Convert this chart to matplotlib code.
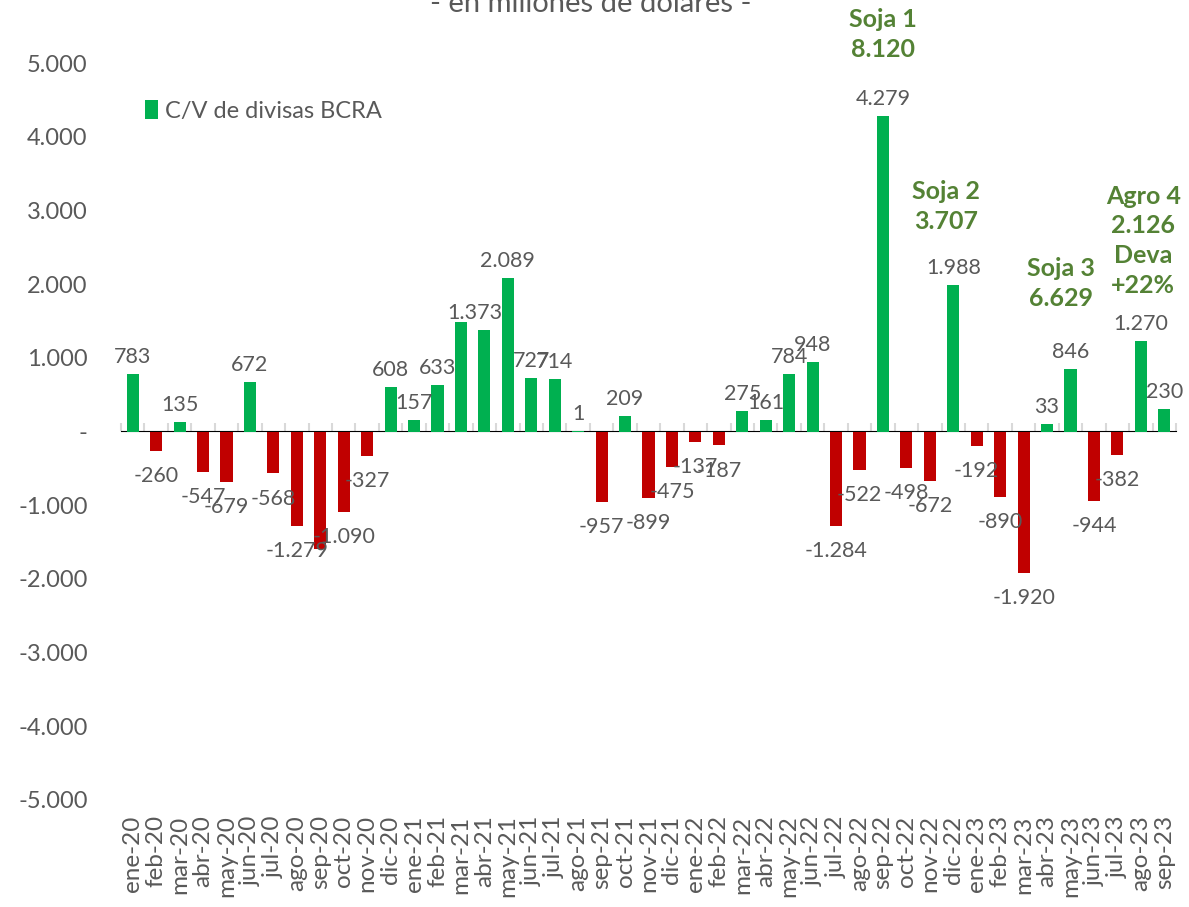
import numpy as np
import matplotlib
matplotlib.use("Agg")
import matplotlib.pyplot as plt

plt.rcParams['font.family'] = ['Lato', 'DejaVu Sans']

# meses
months = ['ene-20', 'feb-20', 'mar-20', 'abr-20', 'may-20', 'jun-20', 'jul-20', 'ago-20',
          'sep-20', 'oct-20', 'nov-20', 'dic-20', 'ene-21', 'feb-21', 'mar-21', 'abr-21',
          'may-21', 'jun-21', 'jul-21', 'ago-21', 'sep-21', 'oct-21', 'nov-21', 'dic-21',
          'ene-22', 'feb-22', 'mar-22', 'abr-22', 'may-22', 'jun-22', 'jul-22', 'ago-22',
          'sep-22', 'oct-22', 'nov-22', 'dic-22', 'ene-23', 'feb-23', 'mar-23', 'abr-23',
          'may-23', 'jun-23', 'jul-23', 'ago-23', 'sep-23']

# C/V de divisas BCRA (alto de barra, millones USD)
values = [783, -260, 135, -547, -679, 672, -568, -1279,
          -1600, -1090, -327, 608, 157, 633, 1480, 1373,
          2089, 727, 714, 1, -957, 209, -899, -475,
          -137, -187, 275, 161, 784, 948, -1284, -522,
          4279, -498, -672, 1988, -192, -890, -1920, 100,
          846, -944, -320, 1230, 310]

# etiquetas que muestra el grafico (None = no visible)
labels = [783, -260, 135, -547, -679, 672, -568, -1279,
          None, -1090, -327, 608, 157, 633, None, 1373,
          2089, 727, 714, 1, -957, 209, -899, -475,
          -137, -187, 275, 161, 784, 948, -1284, -522,
          4279, -498, -672, 1988, -192, -890, -1920, 33,
          846, -944, -382, 1270, 230]

# anotaciones: (texto, posicion en meses, y)
notes = [('Soja 1\n8.120', 32, 5390),
         ('Soja 2\n3.707', 34.7, 3050),
         ('Soja 3\n6.629', 39.6, 2010),
         ('Agro 4\n2.126\nDeva\n+22%', 43.1, 2590)]

GREEN = '#00B050'
RED = '#C00000'
GRAY = '#595959'
NOTE = '#548235'


def fmt(v):
    return f'{v:,}'.replace(',', '.')


fig = plt.figure(figsize=(11.89, 9.07), dpi=100)
ax = fig.add_axes([121/1189, 1 - 800/907, 1055/1189, 737/907])

x = np.arange(len(months))
colors = [GREEN if v >= 0 else RED for v in values]
bars = ax.bar(x, values, width=0.52, color=colors, label='C/V de divisas BCRA', zorder=2)

for xi, v, lab in zip(x, values, labels):
    if lab is None:
        continue
    dx = -7 if xi == 15 else 0  # la etiqueta de abr-21 corre a la izquierda
    if v >= 0:
        ax.annotate(fmt(lab), (xi, v), xytext=(dx, 5), textcoords='offset points',
                    ha='center', va='bottom', fontsize=15.5, color=GRAY)
    else:
        ax.annotate(fmt(lab), (xi, v), xytext=(dx, -11), textcoords='offset points',
                    ha='center', va='top', fontsize=15.5, color=GRAY)

for txt, xn, yn in notes:
    ax.text(xn, yn, txt, ha='center', va='center', fontsize=18, fontweight='bold',
            color=NOTE, linespacing=1.35, clip_on=False)

ax.set_xlim(-0.5, len(months) - 0.5)
ax.set_ylim(-5000, 5000)
yt = np.arange(-5000, 5001, 1000)
ax.set_yticks(yt)
ax.set_yticklabels([fmt(v) if v != 0 else '-' for v in yt])
ax.tick_params(axis='y', length=0, pad=24, labelsize=17, labelcolor=GRAY)

ax.set_xticks(x)
ax.set_xticklabels(months, rotation=90, ha='center', va='top')
ax.tick_params(axis='x', length=0, pad=11, labelsize=17.5, labelcolor=GRAY)

for s in ax.spines.values():
    s.set_visible(False)

# eje de categorias en y=0 con marcas entre meses
sec = ax.secondary_xaxis(0.5)
sec.set_xticks(np.arange(len(months) + 1) - 0.5)
sec.set_xticklabels([])
sec.tick_params(axis='x', direction='out', length=6, width=1.5, color='#D9D9D9')
sec.spines['bottom'].set_color('#D9D9D9')
sec.spines['bottom'].set_linewidth(1.5)

leg = ax.legend(handles=[bars.patches[0]], labels=['C/V de divisas BCRA'],
                loc='upper left', bbox_to_anchor=(0.003, 0.978), frameon=False,
                fontsize=17, handlelength=0.55, handleheight=0.8, handletextpad=0.3,
                labelcolor=GRAY)

fig.text(0.497, 1 - 12/907, '- en millones de dólares -', ha='center', va='baseline',
         fontsize=21, color=GRAY)

fig.savefig('out.png', dpi=100)
